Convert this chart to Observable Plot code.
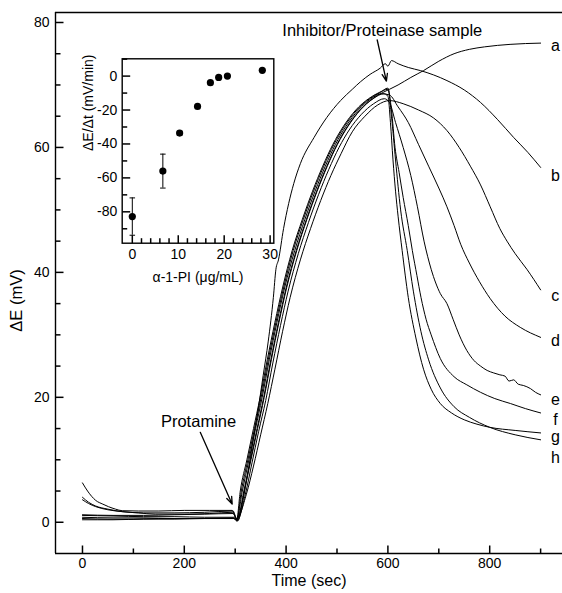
<!DOCTYPE html>
<html><head><meta charset="utf-8">
<script src="https://cdn.jsdelivr.net/npm/d3@7"></script>
<script src="https://cdn.jsdelivr.net/npm/@observablehq/plot@0.6"></script>
<style>
html,body{margin:0;padding:0;background:#fff;}
#wrap{position:relative;width:562px;height:593px;}
#inset{position:absolute;left:60px;top:50px;}
</style></head><body>
<div id="wrap"><div id="main"></div><div id="inset"></div></div>
<script>
// ---- main chart data: [time (sec), ΔE (mV)] ----
const curveA = [[0,0.6],[50,0.5],[100,0.5],[150,0.6],[200,0.6],[250,0.6],[298,0.7],[304,0.3],
 [317,5],[330,10],[343,15],[356,20],[370,26],[385,32],[400,37.5],[420,43.5],[440,48.5],[460,53],[480,57],[500,60.5],[520,63.3],[545,66],[570,67.8],[590,68.8],[603,69.3],
 [620,70],[645,71.2],[670,72.3],[700,73.8],[730,75],[760,75.7],[790,76.1],[840,76.5],[900,76.7]];
const curveB = [[0,6.3],[10,5.0],[26,3.5],[40,2.9],[51,2.5],[65,2.1],[78,1.85],[110,1.8],[150,1.8],[200,1.9],[250,1.9],[294,1.9],[303,0.5],
 [315,3.5],[325,8],[335,13],[345,18],[355,23.5],[365,29],[375,36],[380,40.5],[385,42],[395,47],[405,51],[415,54.2],[428,57.4],[455,61.6],[480,64.8],[507,67.5],[530,69.3],[546,70.5],[565,71.7],[585,72.7],[595,73.4],[600,73.0],[607,73.9],[620,73.4],
 [640,72.8],[664,72.3],[690,71.6],[716,70.7],[750,69.2],[782,67.2],[815,64.5],[847,61.6],[875,59.2],[900,56.8]];
const curveC = [[0,4.0],[12,3.2],[26,2.6],[50,2.1],[78,1.7],[110,1.5],[143,1.3],[200,1.3],[250,1.4],[295,1.6],[303,0.6],
 [322,4.5],[336,9],[350,14],[364,19],[378,24.5],[393,30.5],[408,36],[428,42],[448,47],[468,51.5],[488,55.5],[508,59],[530,62.5],[555,65],[580,66.8],[603,67.5],
 [630,67],[660,66],[690,64.7],[716,62.7],[740,60],[762,57],[782,54],[801,50.5],[820,47],[834,45],[850,43],[873,40.5],[900,37.2]];
const curveD = [[0,3.6],[12,3.0],[26,2.5],[50,2.0],[78,1.7],[120,1.5],[180,1.5],[240,1.6],[296,1.8],[303,0.5],
 [314,5],[327,10],[340,15],[353,20],[367,26],[382,32],[397,37.5],[417,43.5],[437,48.5],[457,53],[477,57],[497,60.5],[517,63.3],[542,66],[567,67.8],[588,68.6],[603,68.4],
 [620,66.5],[640,64],[660,60.5],[680,57],[700,53.5],[716,50.5],[730,47.5],[743,44.5],[760,41.5],[780,38.5],[801,35.8],[830,33],[860,31.2],[900,29.6]];
const curveE = [[0,1.1],[60,1.0],[120,0.9],[180,0.9],[240,0.8],[297,0.8],[304,0.3],
 [320,4.5],[333,9.5],[346,14.5],[360,19.5],[374,25.5],[389,31.5],[404,37],[424,43],[444,48],[464,52.5],[484,56.5],[504,60],[524,62.8],[548,65.3],[572,67],[593,67.8],[603,67.2],
 [615,64],[630,60],[645,55.5],[658,50.5],[671,45],[685,40.5],[703,36.6],[716,35],[728,32.5],[740,30],[755,27.5],[769,25.9],[782,25],[795,24.3],[808,23.9],[820,23.6],[830,23.4],[838,22.6],[847,22.8],[856,22.1],[866,21.9],[880,21.4],[890,20.8],[900,20.4]];
const curveF = [[0,0.8],[60,0.7],[120,0.7],[180,0.6],[240,0.6],[297,0.6],[303,0.2],
 [312,5],[325,10],[338,15],[351,20],[365,26],[380,32],[395,37.5],[414,43.5],[434,48.5],[454,53],[474,57],[494,60.5],[514,63.3],[539,66],[564,67.8],[585,68.8],[600,69.5],
 [607,66],[614,60],[622,56],[630,52],[640,47.5],[648,43.5],[657,39.5],[665,36],[675,32.5],[685,30],[703,26.2],[730,23.3],[755,22],[782,20.8],[810,19.8],[841,19],[870,18.2],[900,17.5]];
const curveG = [[0,0.4],[60,0.4],[120,0.5],[180,0.5],[240,0.6],[298,0.6],[305,0.2],
 [318,5],[331,10],[344,15],[357,20],[371,26],[386,32],[401,37.5],[421,43.5],[441,48.5],[461,53],[481,57],[501,60.5],[521,63.3],[546,66],[571,67.8],[592,68.6],[600,68.2],
 [605,64],[610,58],[615,53],[620,49],[628,43.5],[640,36],[655,29.5],[670,24.5],[685,21.3],[703,19],[725,17.5],[750,16.4],[775,15.7],[800,15.2],[850,14.7],[900,14.3]];
const curveH = [[0,1.2],[60,1.1],[120,1.1],[180,1.2],[240,1.3],[296,1.4],[303,0.5],
 [310,5],[323,10],[336,15],[349,20],[363,26],[378,32],[393,37.5],[412,43.5],[432,48.5],[452,53],[472,57],[492,60.5],[512,63.3],[537,66],[562,67.8],[583,68.8],[600,69.3],
 [607,65],[615,58],[625,50],[638,43.5],[650,37],[665,30.5],[680,26],[703,21.5],[730,18.5],[760,16.8],[800,15.2],[850,14],[900,13.2]];

const curveNames = ["a","b","c","d","e","f","g","h"];
const curveData = [curveA, curveB, curveC, curveD, curveE, curveF, curveG, curveH];
const labelT = 929;
const labelV = [76.3, 55.4, 36.3, 29.1, 19.6, 16.4, 13.6, 10.3];

const xTicksMajor = [0, 200, 400, 600, 800];
const xTicksMinor = [100, 300, 500, 700, 900];
const yTicksMajor = [0, 20, 40, 60, 80];
const yTicksMinor = [5, 10, 15, 25, 30, 35, 45, 50, 55, 65, 70, 75];

const annoText = ["Inhibitor/Proteinase sample", "Protamine"];
const annoTextT = [589, 228];
const annoTextV = [78.7, 16.1];
const arrowFromT = [579, 231.4];
const arrowFromV = [77.2, 14.4];
const arrowToT = [597, 294.1];
const arrowToV = [70.6, 2.9];

// ---- inset data ----
const piConc = [0, 6.65, 10.3, 14.2, 17.0, 18.8, 20.7, 28.3];
const rate = [-82.8, -56, -33.6, -17.9, -3.9, -0.8, 0, 3.4];
const rateErr = [11, 10, 1.2, 0, 0, 0, 0, 0];
const insetXMajor = [0, 10, 20, 30];
const insetXMinor = [2, 4, 6, 8, 12, 14, 16, 18, 22, 24, 26, 28];
const insetYMajor = [-80, -60, -40, -20, 0];
const insetYMinor = [-90, -70, -50, -30, -10, 10];

const FONT = "'Liberation Sans', Arial, Helvetica, sans-serif";
const xDom = [-53, 943], yDom = [-5, 81.6];
const ixDom = [-2.2, 30.8], iyDom = [-98.5, 10.2];

// layout
const W = 562, H = 593, mL = 55, mR = 0, mT = 12, mB = 40;
const fW = W - mL - mR, fH = H - mT - mB;
const iW = 220, iH = 250, imL = 61.7, imR = 6.7, imT = 8.3, imB = 57.3;
const ifW = iW - imL - imR, ifH = iH - imT - imB;
const MAJ = 8, MIN = 5;

// inward tick marks (length in pixels converted to data units)
function ticksMarks(xMaj, xMin, yMaj, yMin, xd, yd, fw, fh) {
  const ux = (xd[1] - xd[0]) / fw, uy = (yd[1] - yd[0]) / fh;
  const xt = [...xMaj.map(v => ({v, L: MAJ})), ...xMin.map(v => ({v, L: MIN}))];
  const yt = [...yMaj.map(v => ({v, L: MAJ})), ...yMin.map(v => ({v, L: MIN}))];
  return [
    Plot.link(xt, {x1: "v", x2: "v", y1: () => yd[0], y2: d => yd[0] + d.L * uy, stroke: "black", strokeWidth: 1.5}),
    Plot.link(yt, {y1: "v", y2: "v", x1: () => xd[0], x2: d => xd[0] + d.L * ux, stroke: "black", strokeWidth: 1.5})
  ];
}

const rows = curveNames.flatMap((n, i) => curveData[i].map(([t, v]) => ({curve: n, t, v})));
const labels = curveNames.map((n, i) => ({n, t: labelT, v: labelV[i]}));
const annos = annoText.map((s, i) => ({s, t: annoTextT[i], v: annoTextV[i], t1: arrowFromT[i], v1: arrowFromV[i], t2: arrowToT[i], v2: arrowToV[i]}));

const main = Plot.plot({
  width: W, height: H,
  marginLeft: mL, marginRight: mR, marginTop: mT, marginBottom: mB,
  x: {domain: xDom},
  y: {domain: yDom},
  style: {fontFamily: FONT, fontSize: "14px", background: "transparent", color: "black"},
  marks: [
    Plot.ruleX([xDom[0]], {stroke: "black", strokeWidth: 1.4}),
    Plot.ruleY([yDom[0]], {stroke: "black", strokeWidth: 1.4}),
    Plot.ruleY([yDom[1]], {stroke: "black", strokeWidth: 1.4}),
    ...ticksMarks(xTicksMajor, xTicksMinor, yTicksMajor, yTicksMinor, xDom, yDom, fW, fH),
    Plot.axisX(xTicksMajor, {tickSize: 0, tickPadding: 5, fontSize: 14, label: null, tickFormat: d => String(d)}),
    Plot.axisY(yTicksMajor, {tickSize: 0, tickPadding: 6, fontSize: 14, label: null, tickFormat: d => String(d)}),
    Plot.text(["Time (sec)"], {text: d => d, frameAnchor: "bottom", dy: 32, fontSize: 16}),
    Plot.text(["ΔE (mV)"], {text: d => d, x: xDom[0], y: 35.5, rotate: -90, dx: -39, fontSize: 16.5}),
    Plot.line(rows, {x: "t", y: "v", z: "curve", stroke: "black", strokeWidth: 1, curve: "monotone-x"}),
    Plot.text(labels, {x: "t", y: "v", text: "n", fontSize: 16}),
    Plot.arrow(annos, {x1: "t1", y1: "v1", x2: "t2", y2: "v2", stroke: "black", strokeWidth: 1.3, headLength: 9, headAngle: 40}),
    Plot.text(annos, {x: "t", y: "v", text: "s", fontSize: 16.5})
  ]
});
document.getElementById("main").appendChild(main);

const pts = piConc.map((x, i) => ({x, y: rate[i], e: rateErr[i]}));
const errs = pts.filter(d => d.e > 0);
const inset = Plot.plot({
  width: iW, height: iH,
  marginLeft: imL, marginRight: imR, marginTop: imT, marginBottom: imB,
  x: {domain: ixDom},
  y: {domain: iyDom},
  style: {fontFamily: FONT, fontSize: "14px", background: "transparent", color: "black"},
  marks: [
    Plot.frame({stroke: "black", strokeWidth: 1.4}),
    ...ticksMarks(insetXMajor, insetXMinor, insetYMajor, insetYMinor, ixDom, iyDom, ifW, ifH),
    Plot.axisX(insetXMajor, {tickSize: 0, tickPadding: 6, fontSize: 14, label: null, tickFormat: d => String(d)}),
    Plot.axisY(insetYMajor, {tickSize: 0, tickPadding: 5, fontSize: 14, label: null, tickFormat: d => String(d)}),
    Plot.text(["α-1-PI (μg/mL)"], {text: d => d, frameAnchor: "bottom", dy: 39, fontSize: 14}),
    Plot.text(["ΔE/Δt (mV/min)"], {text: d => d, frameAnchor: "left", rotate: -90, dx: -34, fontSize: 14}),
    Plot.ruleX(errs, {x: "x", y1: d => d.y - d.e, y2: d => d.y + d.e, stroke: "black", strokeWidth: 1}),
    Plot.link(errs, {x1: d => d.x - 0.6, x2: d => d.x + 0.6, y1: d => d.y - d.e, y2: d => d.y - d.e, stroke: "black"}),
    Plot.link(errs, {x1: d => d.x - 0.6, x2: d => d.x + 0.6, y1: d => d.y + d.e, y2: d => d.y + d.e, stroke: "black"}),
    Plot.dot(pts, {x: "x", y: "y", r: 3.6, fill: "black", stroke: "none"})
  ]
});
document.getElementById("inset").appendChild(inset);
</script>
</body></html>
